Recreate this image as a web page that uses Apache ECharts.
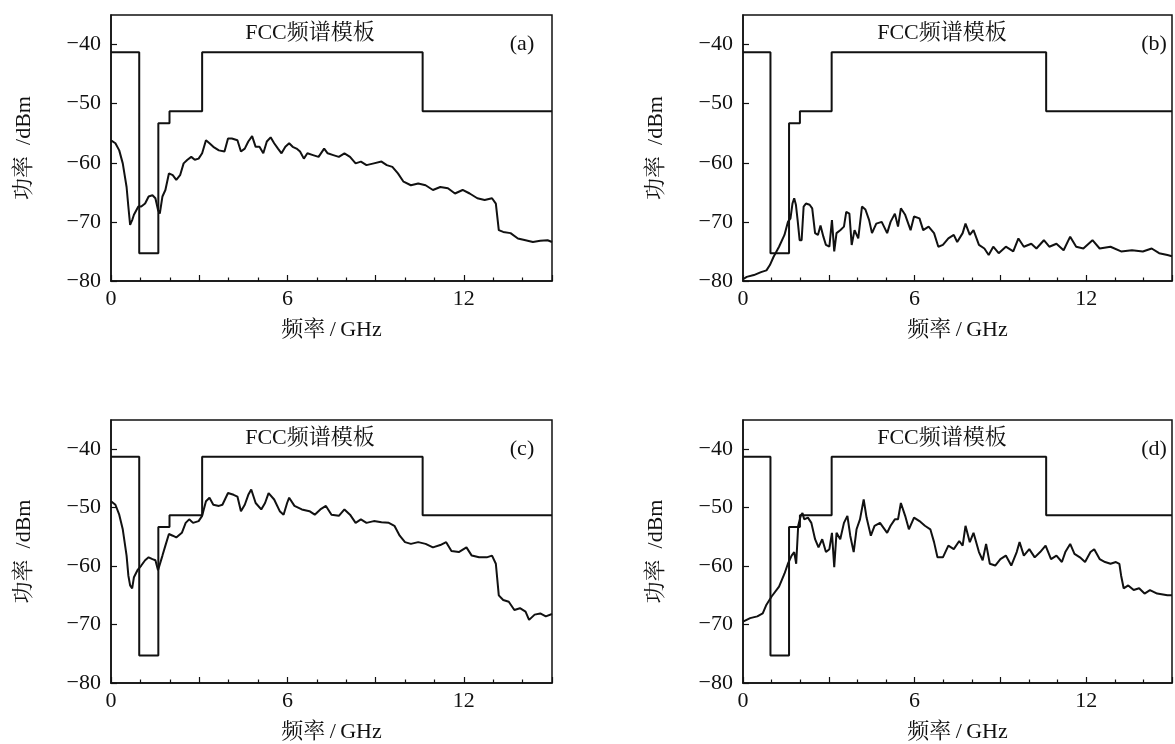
<!DOCTYPE html>
<html>
<head>
<meta charset="utf-8">
<script src="https://cdn.jsdelivr.net/npm/echarts@6/dist/echarts.min.js"></script>
<style>
  html, body { margin: 0; padding: 0; background: #fff; }
  #chart { width: 1175px; height: 744px; }
</style>
</head>
<body>
<div id="chart"></div>
<script>
// FCC indoor mask: level starts at each break frequency (GHz, dBm)
const maskFreq = [0, 0.96, 1.61, 1.99, 3.1, 10.6, 15]
const maskLevel = [-41.3, -75.3, -53.3, -51.3, -41.3, -51.3, -51.3]

// (a)
const freqA = [0, 0.15, 0.28, 0.4, 0.53, 0.59, 0.65, 0.72, 0.78, 0.84, 0.93, 1.03, 1.16, 1.28, 1.41, 1.51, 1.6, 1.66, 1.75, 1.85, 1.97, 2.1, 2.22, 2.35, 2.47, 2.6, 2.73, 2.85, 2.98, 3.1, 3.23, 3.35, 3.48, 3.67, 3.86, 3.98, 4.11, 4.3, 4.42, 4.55, 4.67, 4.8, 4.92, 5.05, 5.18, 5.3, 5.43, 5.55, 5.68, 5.8, 5.93, 6.06, 6.18, 6.31, 6.43, 6.56, 6.68, 6.87, 7.06, 7.25, 7.37, 7.56, 7.75, 7.94, 8.13, 8.32, 8.5, 8.69, 8.94, 9.2, 9.38, 9.57, 9.76, 9.95, 10.2, 10.45, 10.7, 10.95, 11.2, 11.46, 11.7, 11.96, 12.2, 12.46, 12.71, 12.96, 13.09, 13.19, 13.34, 13.59, 13.84, 14.1, 14.35, 14.6, 14.85, 15]
const powerA = [-56.2, -56.7, -57.9, -60.1, -64.1, -67.4, -70.5, -69.7, -68.8, -68.6, -67.4, -67.4, -66.9, -65.7, -65.5, -66, -68, -68.6, -65.7, -64.6, -61.8, -62.1, -62.9, -62.1, -60.1, -59.5, -59, -59.5, -59.3, -58.4, -56.2, -56.7, -57.3, -57.9, -58.1, -55.9, -55.9, -56.2, -58.1, -57.6, -56.4, -55.5, -57.3, -57.3, -58.4, -56.4, -55.7, -56.7, -57.6, -58.4, -57.3, -56.7, -57.3, -57.6, -58.1, -59.3, -58.4, -58.7, -59, -57.6, -58.4, -58.7, -59, -58.4, -59, -60.1, -59.8, -60.4, -60.1, -59.8, -60.4, -60.7, -61.8, -63.2, -63.8, -63.5, -63.8, -64.6, -64.1, -64.3, -65.2, -64.6, -65.2, -66, -66.3, -66, -66.9, -71.4, -71.7, -71.9, -72.8, -73.1, -73.4, -73.2, -73.1, -73.4]

// (b)
const freqB = [0, 0.13, 0.38, 0.63, 0.82, 0.94, 1.07, 1.26, 1.45, 1.57, 1.66, 1.73, 1.79, 1.85, 1.91, 1.98, 2.05, 2.12, 2.2, 2.33, 2.42, 2.52, 2.62, 2.71, 2.81, 2.9, 3.02, 3.11, 3.19, 3.27, 3.4, 3.53, 3.61, 3.72, 3.8, 3.9, 4.03, 4.16, 4.28, 4.41, 4.51, 4.66, 4.85, 5.04, 5.16, 5.31, 5.42, 5.52, 5.67, 5.86, 5.98, 6.17, 6.3, 6.49, 6.68, 6.83, 6.99, 7.18, 7.37, 7.49, 7.68, 7.78, 7.93, 8.06, 8.25, 8.44, 8.59, 8.75, 8.94, 9.19, 9.45, 9.63, 9.82, 10.08, 10.26, 10.52, 10.71, 10.96, 11.21, 11.44, 11.65, 11.9, 12.22, 12.47, 12.85, 13.22, 13.6, 13.98, 14.29, 14.55, 14.84, 15]
const powerB = [-79.7, -79.3, -79, -78.5, -78.2, -77.3, -75.9, -74.2, -72.2, -70, -69.4, -66.9, -66, -67.1, -69.7, -73.1, -73.1, -67.4, -66.9, -67.1, -67.7, -71.9, -72.2, -70.6, -72.5, -73.9, -74.2, -69.7, -75, -71.9, -71.4, -70.8, -68.3, -68.6, -73.9, -71.4, -72.8, -67.4, -67.9, -69.7, -71.9, -70.3, -70, -71.9, -70, -68.6, -70.8, -67.7, -68.8, -71.4, -69.1, -69.4, -71.4, -70.8, -71.9, -74.2, -73.9, -72.8, -72.2, -73.4, -71.9, -70.3, -72.2, -71.4, -73.9, -74.5, -75.6, -74.2, -75.3, -74.2, -75, -72.8, -74.2, -73.7, -74.5, -73.1, -74.2, -73.7, -74.8, -72.5, -74.2, -74.5, -73.1, -74.5, -74.2, -75, -74.8, -75, -74.5, -75.3, -75.6, -75.8]

// (c)
const freqC = [0, 0.15, 0.28, 0.4, 0.53, 0.59, 0.65, 0.72, 0.78, 0.9, 1.03, 1.16, 1.28, 1.41, 1.51, 1.6, 1.66, 1.75, 1.85, 1.97, 2.1, 2.22, 2.41, 2.54, 2.66, 2.79, 2.98, 3.1, 3.23, 3.35, 3.48, 3.67, 3.79, 3.98, 4.17, 4.3, 4.42, 4.55, 4.67, 4.77, 4.92, 5.11, 5.24, 5.36, 5.55, 5.74, 5.87, 5.99, 6.06, 6.24, 6.49, 6.75, 6.93, 7.12, 7.31, 7.5, 7.75, 7.94, 8.13, 8.32, 8.5, 8.69, 8.94, 9.2, 9.45, 9.64, 9.82, 10, 10.2, 10.45, 10.7, 10.95, 11.2, 11.4, 11.58, 11.83, 12.09, 12.27, 12.52, 12.78, 12.96, 13.09, 13.19, 13.34, 13.53, 13.72, 13.91, 14.1, 14.22, 14.41, 14.6, 14.79, 15]
const powerC = [-48.9, -49.5, -51.2, -53.7, -58.2, -61.6, -63.3, -63.8, -61.9, -60.7, -59.9, -59, -58.5, -58.8, -59, -60.7, -61, -58.2, -56.5, -54.5, -54.8, -55.1, -54.3, -52.6, -52, -52.6, -52.3, -51.4, -48.9, -48.3, -49.5, -49.7, -49.5, -47.5, -47.8, -48.1, -50.6, -49.5, -47.8, -46.9, -49.2, -50.3, -49.2, -47.5, -48.6, -50.6, -51.2, -49.2, -48.3, -49.7, -50.3, -50.6, -51.2, -50.3, -49.7, -51.2, -51.4, -50.3, -51.2, -52.6, -52, -52.6, -52.3, -52.5, -52.6, -53.1, -54.8, -55.9, -56.2, -55.9, -56.2, -56.8, -56.4, -55.9, -57.4, -57.6, -56.8, -58.2, -58.5, -58.5, -58.2, -59.6, -65, -65.8, -66.1, -67.5, -67.2, -67.8, -69.2, -68.3, -68.1, -68.6, -68.2]

// (d)
const freqD = [0, 0.25, 0.5, 0.69, 0.82, 1, 1.26, 1.45, 1.57, 1.7, 1.79, 1.86, 1.93, 2.02, 2.08, 2.14, 2.27, 2.39, 2.52, 2.64, 2.77, 2.9, 3.02, 3.11, 3.19, 3.27, 3.4, 3.53, 3.65, 3.75, 3.87, 3.97, 4.09, 4.22, 4.32, 4.47, 4.6, 4.79, 5.04, 5.16, 5.31, 5.42, 5.52, 5.67, 5.8, 5.98, 6.17, 6.36, 6.55, 6.68, 6.8, 6.99, 7.18, 7.37, 7.56, 7.68, 7.78, 7.93, 8.06, 8.25, 8.38, 8.5, 8.63, 8.82, 9, 9.19, 9.38, 9.57, 9.67, 9.82, 10.01, 10.2, 10.39, 10.58, 10.77, 10.96, 11.15, 11.27, 11.44, 11.59, 11.78, 11.96, 12.15, 12.28, 12.47, 12.66, 12.85, 13.04, 13.16, 13.22, 13.31, 13.47, 13.66, 13.85, 14.04, 14.23, 14.48, 14.84, 15]
const powerD = [-69.5, -68.9, -68.6, -68.1, -66.6, -65.2, -63.5, -61.3, -59.6, -58.2, -57.6, -59.6, -53.1, -51.4, -50.9, -52, -51.7, -52.6, -55.4, -56.8, -55.4, -57.6, -57.1, -54.3, -60.2, -54.3, -55.4, -52.6, -51.4, -54.8, -57.6, -53.7, -52, -48.6, -51.7, -54.8, -53.1, -52.6, -54.3, -53.1, -52, -52, -49.2, -51.4, -53.7, -51.7, -52.3, -53.1, -53.7, -55.9, -58.5, -58.5, -56.5, -57.1, -55.7, -56.5, -53.1, -55.9, -54.3, -57.6, -59, -56.2, -59.6, -59.9, -58.8, -58.2, -59.9, -57.6, -55.9, -58.2, -57.1, -58.5, -57.6, -56.5, -58.8, -58.2, -59.3, -57.6, -56.2, -57.9, -58.5, -59.3, -57.6, -57.1, -58.8, -59.3, -59.6, -59.3, -59.6, -61.6, -63.8, -63.3, -64.1, -63.8, -64.7, -64.1, -64.7, -65, -65]

const panelTags = ['(a)', '(b)', '(c)', '(d)']
const maskName = 'FCC频谱模板'
const xName = '频率\u2009/\u2009GHz'
const yName = '功率\u2002/dBm'
const spectra = [[freqA, powerA], [freqB, powerB], [freqC, powerC], [freqD, powerD]]

const zip = (xs, ys) => xs.map((x, i) => [x, ys[i]])

// layout of the four plot boxes
const boxes = [
  { left: 111, top: 15 },
  { left: 743, top: 15 },
  { left: 111, top: 420 },
  { left: 743, top: 420 }
]
const W = 441
const H = 266
const FONT = "'Liberation Serif', 'Noto Serif CJK SC', 'Noto Sans CJK SC', serif"
const FS = 22
const INK = '#111'

const chart = echarts.init(document.getElementById('chart'))

const grid = [], xAxis = [], yAxis = [], series = [], graphic = []

boxes.forEach((b, i) => {
  grid.push({
    left: b.left, top: b.top, width: W, height: H,
    show: true, borderColor: INK, borderWidth: 1.5, backgroundColor: 'transparent'
  })
  xAxis.push({
    gridIndex: i, type: 'value', min: 0, max: 15, interval: 3,
    name: xName, nameLocation: 'middle', nameGap: 38,
    nameTextStyle: { fontFamily: FONT, fontSize: FS, color: INK },
    axisLine: { show: true, onZero: false, lineStyle: { color: INK, width: 1.5 } },
    axisTick: { show: true, inside: true, length: 6, lineStyle: { color: INK, width: 1.2 } },
    minorTick: { show: true, splitNumber: 3, length: 3.5, lineStyle: { color: INK, width: 1.2 } },
    axisLabel: {
      fontFamily: FONT, fontSize: FS, color: INK, margin: 7,
      formatter: v => (v % 6 === 0 && v < 15 ? String(v) : '')
    },
    splitLine: { show: false }
  })
  yAxis.push({
    gridIndex: i, type: 'value', min: -80, max: -35, interval: 10,
    name: yName, nameLocation: 'middle', nameGap: 76,
    nameTextStyle: { fontFamily: FONT, fontSize: FS, color: INK },
    axisLine: { show: true, onZero: false, lineStyle: { color: INK, width: 1.5 } },
    axisTick: { show: true, inside: true, length: 6, lineStyle: { color: INK, width: 1.2 } },
    axisLabel: {
      fontFamily: FONT, fontSize: FS, color: INK, margin: 10, showMaxLabel: false,
      formatter: v => (v > -35 ? '' : String(v).replace('-', '\u2212'))
    },
    splitLine: { show: false }
  })
  series.push({
    name: maskName, type: 'line', xAxisIndex: i, yAxisIndex: i,
    step: 'end', showSymbol: false, silent: true,
    lineStyle: { color: INK, width: 2 },
    data: zip(maskFreq, maskLevel)
  })
  series.push({
    name: 'spectrum' + i, type: 'line', xAxisIndex: i, yAxisIndex: i,
    showSymbol: false, silent: true,
    lineStyle: { color: INK, width: 2 },
    data: zip(spectra[i][0], spectra[i][1])
  })
  graphic.push({
    type: 'text', x: b.left + 199, y: b.top + 18,
    style: { text: maskName, font: FS + 'px ' + FONT, fill: INK, align: 'center', verticalAlign: 'middle' }
  })
  graphic.push({
    type: 'text', x: b.left + 411, y: b.top + 29,
    style: { text: panelTags[i], font: FS + 'px ' + FONT, fill: INK, align: 'center', verticalAlign: 'middle' }
  })
})

chart.setOption({
  animation: false,
  grid, xAxis, yAxis, series, graphic
})
</script>
</body>
</html>
